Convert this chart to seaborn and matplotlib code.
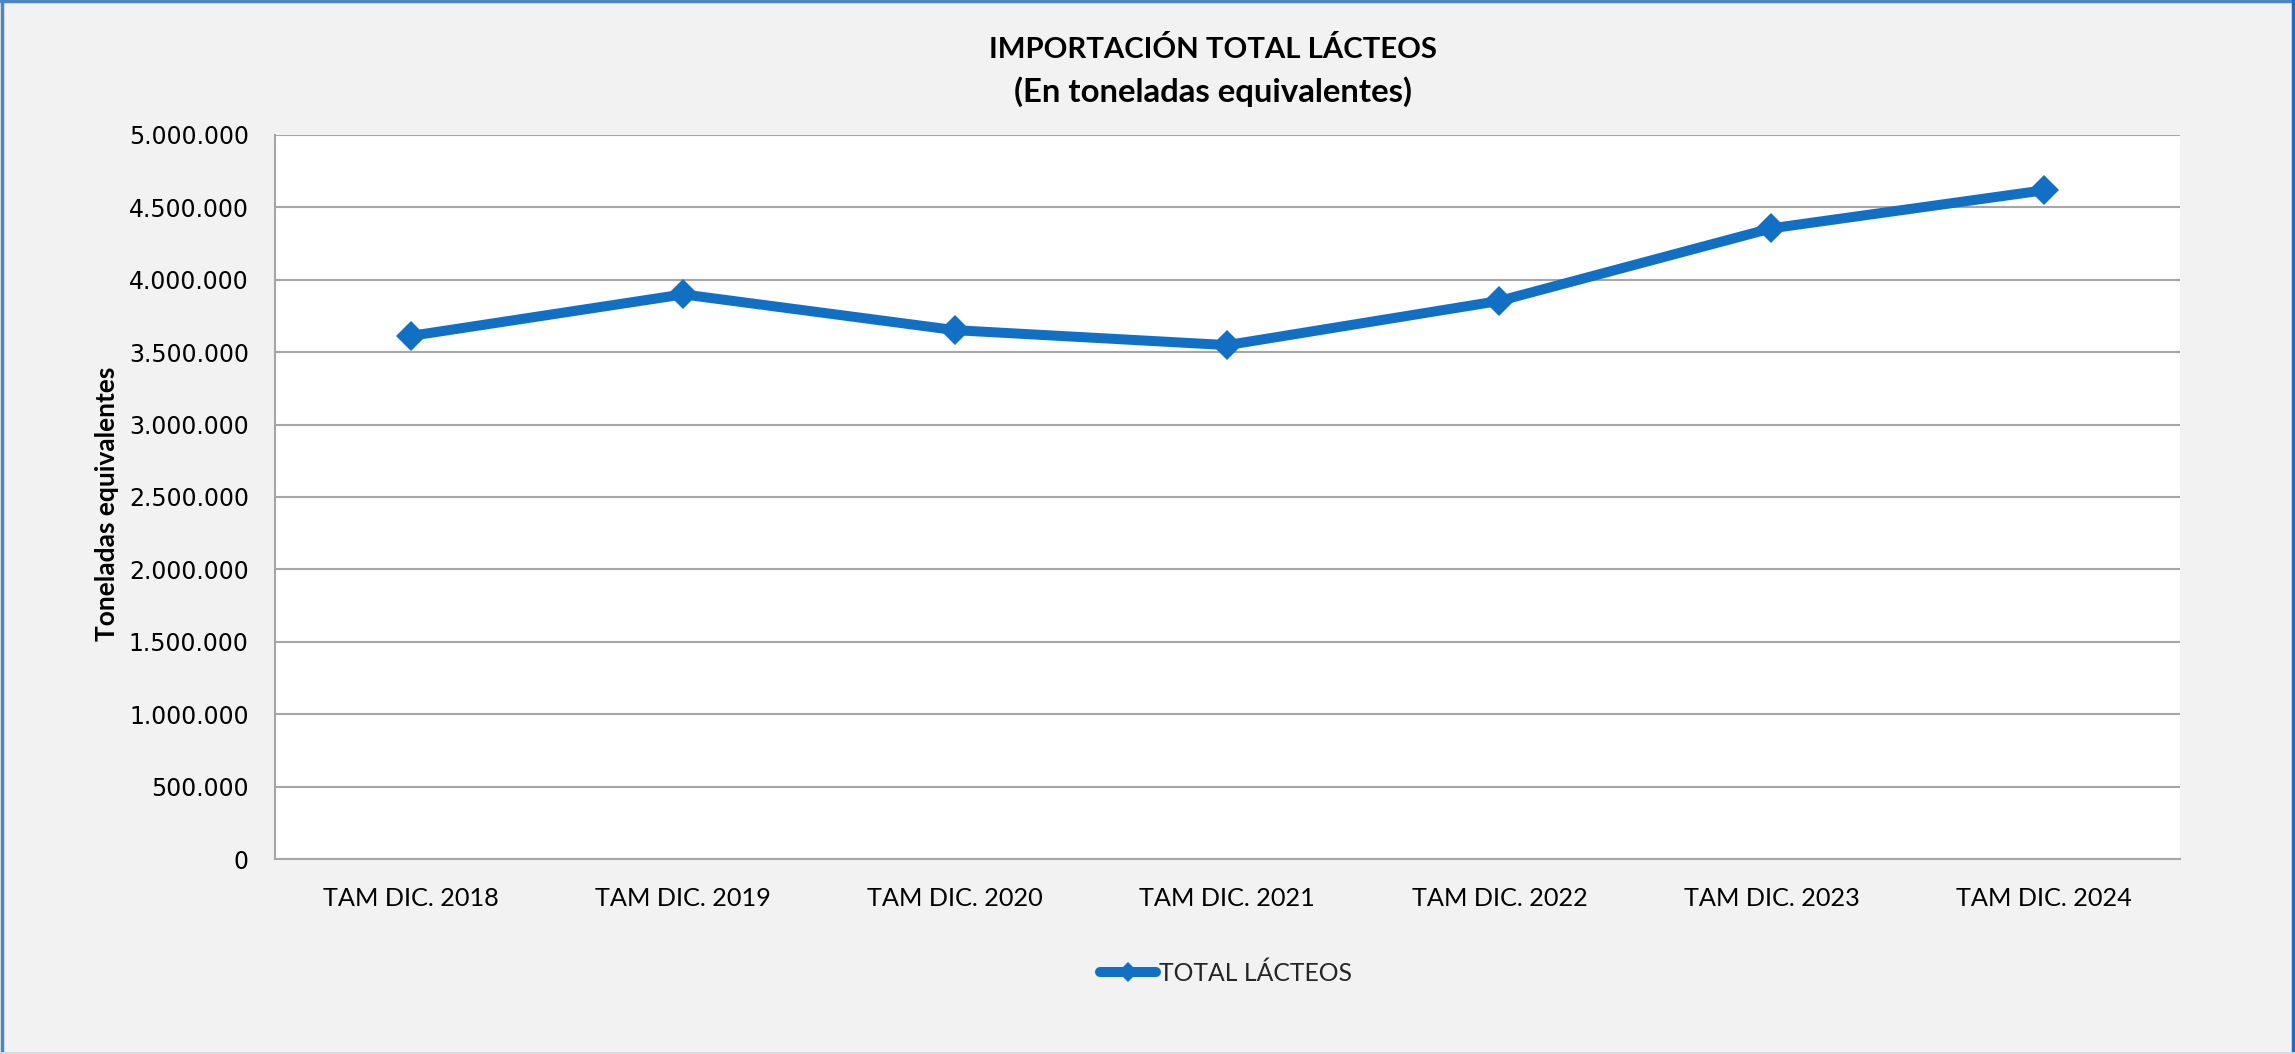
import matplotlib
matplotlib.use("Agg")
import matplotlib.pyplot as plt
import matplotlib.ticker as mticker
from matplotlib.lines import Line2D
import seaborn as sns
import pandas as pd

categories = ["TAM DIC. 2018", "TAM DIC. 2019", "TAM DIC. 2020", "TAM DIC. 2021",
              "TAM DIC. 2022", "TAM DIC. 2023", "TAM DIC. 2024"]
values = [3612000, 3898000, 3651000, 3548000, 3853000, 4354000, 4616000]
series_name = "TOTAL LÁCTEOS"
title_line1 = "IMPORTACIÓN TOTAL LÁCTEOS"
title_line2 = "(En toneladas equivalentes)"
ylabel = "Toneladas equivalentes"
yticks = list(range(0, 5000001, 500000))

df = pd.DataFrame({"cat": categories, "val": values})

sns.set_theme(style="white")
plt.rcParams["font.family"] = ["Lato", "DejaVu Sans"]

BG = "#f2f2f2"
LINE = "#1170c4"
GRID = "#a6a6a6"

fig = plt.figure(figsize=(22.95, 10.54), dpi=100, facecolor=BG)
ax = fig.add_axes([0.1199, 0.1848, 0.9497 - 0.1199, 0.8722 - 0.1848])
ax.set_facecolor("white")

sns.lineplot(data=df, x="cat", y="val", ax=ax, color=LINE, linewidth=7.2,
             marker="D", markersize=15, markeredgewidth=0, label=series_name,
             sort=False)

ax.set_xlim(-0.5, len(categories) - 0.5)
ax.set_ylim(0, 5000000)
ax.set_yticks(yticks)
ax.yaxis.set_major_formatter(mticker.FuncFormatter(lambda v, p: f"{int(v):,}".replace(",", ".")))
ax.grid(axis="y", color=GRID, linewidth=1.5)
ax.grid(axis="x", visible=False)
ax.set_axisbelow(True)
for s in ["top", "right"]:
    ax.spines[s].set_visible(False)
for s in ["left", "bottom"]:
    ax.spines[s].set_color(GRID)
    ax.spines[s].set_linewidth(1.5)
ax.tick_params(axis="both", length=0)
ax.tick_params(axis="y", pad=19)
ax.tick_params(axis="x", pad=20)
for lab in ax.get_yticklabels():
    lab.set_fontfamily("DejaVu Sans")
    lab.set_fontsize(17)
    lab.set_color("#000000")
for lab in ax.get_xticklabels():
    lab.set_fontsize(18.2)
    lab.set_color("#000000")

ax.set_xlabel("")
ax.set_ylabel(ylabel, fontsize=19, fontweight="bold", color="black")
ax.yaxis.set_label_coords(-0.082, 0.491)

cx = 1213 / 2295
fig.text(cx, 1 - 50 / 1054, title_line1,
         ha="center", va="center", fontsize=21.2, fontweight="bold", color="black")
fig.text(cx, 1 - 92 / 1054, title_line2,
         ha="center", va="center", fontsize=23.7, fontweight="bold", color="black")

ax.get_legend().remove()
handle = Line2D([], [], color=LINE, linewidth=7.2, marker="D", markersize=10, markeredgewidth=0)
leg = fig.legend([handle], [series_name], loc="center", bbox_to_anchor=(1226 / 2295, 1 - 973 / 1054),
                 frameon=False, fontsize=17.8, handlelength=2.25, handletextpad=0.1)

# outer border
fig.add_artist(Line2D([0.001, 0.001], [0, 1], transform=fig.transFigure, color="#4a86c8", linewidth=2.5))
fig.add_artist(Line2D([0, 1], [0.999, 0.999], transform=fig.transFigure, color="#4a86c8", linewidth=2.5))
fig.add_artist(Line2D([0.999, 0.999], [0, 1], transform=fig.transFigure, color="#1a6fc4", linewidth=2.5))
fig.add_artist(Line2D([0, 1], [0.001, 0.001], transform=fig.transFigure, color="#d6dbe2", linewidth=2))

fig.savefig("out.png", dpi=100, facecolor=BG)
